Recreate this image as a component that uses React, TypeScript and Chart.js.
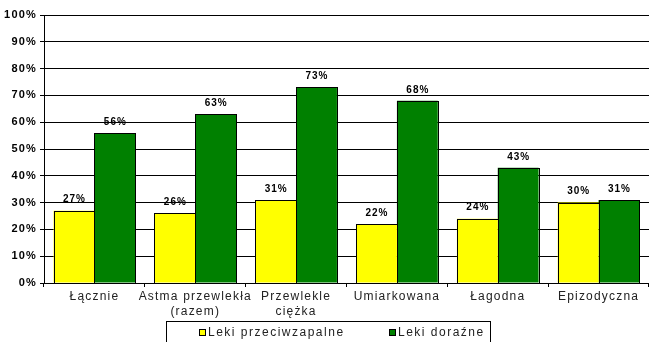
import React, { useEffect, useRef } from "react";
import { Chart, registerables } from "chart.js";

Chart.register(...registerables);

// Categories (multi-line labels are arrays)
const categories: (string | string[])[] = [
  "Łącznie",
  ["Astma przewlekła", "(razem)"],
  ["Przewlekle", "ciężka"],
  "Umiarkowana",
  "Łagodna",
  "Epizodyczna",
];

const seriesNames = ["Leki przeciwzapalne", "Leki doraźne"];
const antiInflammatory = [27, 26, 31, 22, 24, 30];
const relievers = [56, 63, 73, 68, 43, 31];
const seriesColors = ["#FFFF00", "#008000"];

const yMin = 0;
const yMax = 100;
const yStep = 10;

const FONT = "'Liberation Sans', Arial, sans-serif";

// Wider letter spacing for every piece of text on the canvas
const spacingPlugin = {
  id: "letterSpacing",
  beforeUpdate(chart: any) {
    chart.ctx.letterSpacing = "1.2px";
  },
  beforeDraw(chart: any) {
    chart.ctx.letterSpacing = "1.2px";
  },
};

// Crisp black outlines around bars, then percentage labels above them
const barDecor = {
  id: "barDecor",
  afterDatasetsDraw(chart: any) {
    const ctx = chart.ctx;
    ctx.save();
    ctx.strokeStyle = "#000";
    ctx.lineWidth = 1;
    chart.data.datasets.forEach((_ds: any, i: number) => {
      const meta = chart.getDatasetMeta(i);
      meta.data.forEach((bar: any) => {
        const left = Math.round(bar.x - bar.width / 2) + 0.5;
        const right = Math.round(bar.x + bar.width / 2) + 0.5;
        const top = Math.round(bar.y) + 0.5;
        const bottom = Math.round(bar.base) + 0.5;
        ctx.strokeRect(left, top, right - left, bottom - top);
      });
    });

    ctx.letterSpacing = "1px";
    ctx.font = `bold 10px ${FONT}`;
    ctx.fillStyle = "#000";
    ctx.textAlign = "center";
    ctx.textBaseline = "middle";
    chart.data.datasets.forEach((ds: any, i: number) => {
      const meta = chart.getDatasetMeta(i);
      meta.data.forEach((bar: any, j: number) => {
        ctx.fillText(`${ds.data[j]}%`, bar.x + 0.5, bar.y - 11);
      });
    });
    ctx.restore();
  },
};

// Boxed legend under the axis labels
const boxedLegend = {
  id: "boxedLegend",
  afterDraw(chart: any) {
    const ctx = chart.ctx;
    ctx.save();
    ctx.letterSpacing = "1.5px";
    ctx.strokeStyle = "#000";
    ctx.lineWidth = 1;
    ctx.strokeRect(166.5, 321.5, 324, 30);
    const itemX = [199, 389];
    ctx.font = `12px ${FONT}`;
    ctx.textBaseline = "alphabetic";
    ctx.textAlign = "left";
    chart.data.datasets.forEach((ds: any, i: number) => {
      const x = itemX[i];
      ctx.fillStyle = ds.backgroundColor;
      ctx.fillRect(x, 329, 7, 7);
      ctx.strokeRect(x + 0.5, 329.5, 6, 6);
      ctx.fillStyle = "#222";
      ctx.fillText(ds.label, x + 9, 336);
    });
    ctx.restore();
  },
};

export default function App() {
  const ref = useRef<HTMLCanvasElement>(null);

  useEffect(() => {
    if (!ref.current) return;
    const chart = new Chart(ref.current, {
      type: "bar",
      data: {
        labels: categories,
        datasets: [
          {
            label: seriesNames[0],
            data: antiInflammatory,
            backgroundColor: seriesColors[0],
            borderWidth: 0,
          },
          {
            label: seriesNames[1],
            data: relievers,
            backgroundColor: seriesColors[1],
            borderWidth: 0,
          },
        ],
      },
      options: {
        responsive: false,
        animation: false,
        layout: { padding: { top: 15, right: 0, bottom: 0, left: 0 } },
        datasets: {
          bar: { categoryPercentage: 0.81, barPercentage: 1 },
        },
        plugins: {
          legend: { display: false },
          tooltip: { enabled: false },
        },
        scales: {
          x: {
            grid: {
              offset: true,
              drawOnChartArea: false,
              drawTicks: true,
              tickLength: 4,
              color: "#000",
            },
            border: { display: true, color: "#000" },
            ticks: {
              color: "#222",
              font: { family: FONT, size: 12, lineHeight: 1.25 },
              padding: 2,
              maxRotation: 0,
              autoSkip: false,
            },
            afterFit(scale: any) {
              scale.height = 59;
            },
          },
          y: {
            min: yMin,
            max: yMax,
            grid: { color: "#000", tickLength: 4 },
            border: { display: true, color: "#000" },
            ticks: {
              stepSize: yStep,
              color: "#000",
              padding: 3,
              font: { family: FONT, size: 11, weight: "bold" },
              callback: (v: any) => `${v}%`,
            },
            afterFit(scale: any) {
              scale.width = 44;
            },
          },
        },
      },
      plugins: [spacingPlugin, barDecor, boxedLegend],
    });
    return () => chart.destroy();
  }, []);

  return (
    <div style={{ position: "fixed", left: 0, top: 0, width: 649, height: 342, background: "#fff" }}>
      <canvas ref={ref} width={649} height={342} />
    </div>
  );
}
